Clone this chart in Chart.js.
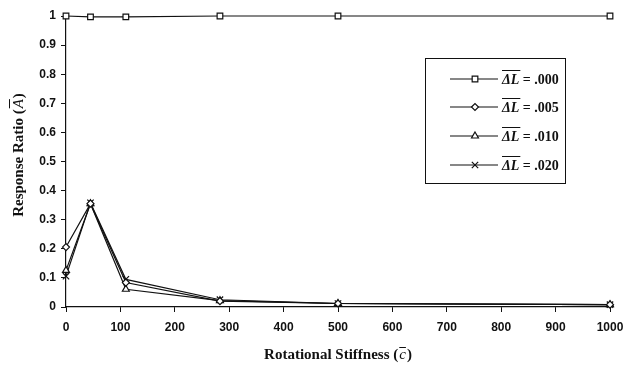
<!DOCTYPE html>
<html>
<head>
<meta charset="utf-8">
<script src="https://cdn.jsdelivr.net/npm/chart.js@4/dist/chart.umd.min.js"></script>
<style>
  body { margin: 0; background: #fff; }
  #wrap { width: 623px; height: 365px; position: relative; }
</style>
</head>
<body>
<div id="wrap"><canvas id="chart"></canvas></div>
<script>
// ── Data ─────────────────────────────────────────────────────────────
const stiffness = [0, 45, 110, 283, 500, 1000];
const dL000 = [1.0, 0.997, 0.997, 1.0, 1.0, 1.0];
const dL005 = [0.206, 0.355, 0.084, 0.02, 0.012, 0.008];
const dL010 = [0.126, 0.355, 0.061, 0.022, 0.012, 0.008];
const dL020 = [0.106, 0.358, 0.095, 0.025, 0.012, 0.008];
const seriesLabels = ['.000', '.005', '.010', '.020'];
const xTicks = [0, 100, 200, 300, 400, 500, 600, 700, 800, 900, 1000];

const INK = '#111';
const SERIF = '"Liberation Serif", "Times New Roman", serif';
const styles = [
    { pointStyle: 'rect', radius: 4 },
    { pointStyle: 'rectRot', radius: 3.5 },
    { pointStyle: 'triangle', radius: 4 },
    { pointStyle: 'crossRot', radius: 4.5 }
];

function toPoints(ys) {
    return stiffness.map((x, i) => ({ x: x, y: ys[i] }));
}

const datasets = [dL000, dL005, dL010, dL020].map((ys, i) => ({
    label: seriesLabels[i],
    data: toPoints(ys),
    borderColor: INK,
    borderWidth: 1.2,
    backgroundColor: '#fff',
    pointStyle: styles[i].pointStyle,
    pointRadius: styles[i].radius,
    pointBorderColor: INK,
    pointBackgroundColor: '#fff',
    pointBorderWidth: 1.2,
    tension: 0,
    clip: false
}));

// ── Legend box + axis titles (overlined symbols drawn by hand) ───────
function overline(ctx, x, y, w) {
    ctx.beginPath();
    ctx.lineWidth = 1;
    ctx.moveTo(x, y);
    ctx.lineTo(x + w, y);
    ctx.stroke();
}

const annotations = {
    id: 'annotations',
    afterDraw(chart) {
        const ctx = chart.ctx;
        const area = chart.chartArea;
        ctx.save();
        ctx.strokeStyle = INK;
        ctx.fillStyle = INK;

        // legend
        const box = { x: 425, y: 58, w: 140, h: 125 };
        ctx.lineWidth = 1;
        ctx.strokeRect(box.x + 0.5, box.y + 0.5, box.w, box.h);
        const rowY = [79, 107, 136, 165];
        seriesLabels.forEach((lab, i) => {
            const y = rowY[i];
            ctx.lineWidth = 1.2;
            ctx.beginPath();
            ctx.moveTo(450, y);
            ctx.lineTo(498, y);
            ctx.stroke();
            ctx.fillStyle = '#fff';
            Chart.helpers.drawPoint(ctx, {
                pointStyle: styles[i].pointStyle,
                radius: styles[i].radius,
                rotation: 0,
                borderWidth: 1.2
            }, 475, y);
            ctx.fillStyle = INK;
            ctx.textBaseline = 'middle';
            ctx.textAlign = 'left';
            ctx.font = 'italic bold 14px ' + SERIF;
            const sym = '\u0394L';
            ctx.fillText(sym, 502, y + 1);
            const w = ctx.measureText(sym).width;
            overline(ctx, 502, y - 8.5, w + 1);
            ctx.font = 'bold 14px ' + SERIF;
            ctx.fillText(' = ' + lab, 502 + w, y + 1);
        });

        // x title: Rotational Stiffness (c̄)
        ctx.textBaseline = 'alphabetic';
        const xParts = [
            { t: 'Rotational Stiffness (', f: 'bold 15px ' + SERIF },
            { t: 'c', f: 'italic 15px ' + SERIF, bar: true },
            { t: ')', f: 'bold 15px ' + SERIF }
        ];
        let total = 0;
        xParts.forEach(p => { ctx.font = p.f; p.w = ctx.measureText(p.t).width; total += p.w + (p.bar ? 2 : 0); });
        let cx = (area.left + area.right) / 2 - total / 2;
        const by = 359;
        xParts.forEach(p => {
            ctx.font = p.f;
            ctx.fillText(p.t, cx + (p.bar ? 1 : 0), by);
            if (p.bar) overline(ctx, cx + 1, by - 11.5, p.w);
            cx += p.w + (p.bar ? 2 : 0);
        });

        // y title: Response Ratio (Ā)
        ctx.save();
        ctx.translate(23, 155);
        ctx.rotate(-Math.PI / 2);
        const yParts = [
            { t: 'Response Ratio (', f: 'bold 15px ' + SERIF },
            { t: 'A', f: 'italic 15px ' + SERIF, bar: true },
            { t: ')', f: 'bold 15px ' + SERIF }
        ];
        total = 0;
        yParts.forEach(p => { ctx.font = p.f; p.w = ctx.measureText(p.t).width; total += p.w + (p.bar ? 2 : 0); });
        cx = -total / 2;
        yParts.forEach(p => {
            ctx.font = p.f;
            ctx.fillText(p.t, cx + (p.bar ? 1 : 0), 0);
            if (p.bar) overline(ctx, cx + 1, -13.5, p.w);
            cx += p.w + (p.bar ? 2 : 0);
        });
        ctx.restore();

        ctx.restore();
    }
};

// ── Chart ────────────────────────────────────────────────────────────
const tickFont = { family: '"Liberation Sans", Arial, sans-serif', size: 12, weight: 'bold' };

new Chart(document.getElementById('chart').getContext('2d'), {
    type: 'line',
    data: { datasets: datasets },
    options: {
        responsive: true,
        maintainAspectRatio: false,
        animation: false,
        layout: { padding: { top: 16, right: 0, left: 0, bottom: 0 } },
        plugins: {
            legend: { display: false },
            tooltip: { enabled: false }
        },
        scales: {
            x: {
                type: 'linear',
                min: 0,
                max: 1000,
                afterBuildTicks: s => { s.ticks = xTicks.map(v => ({ value: v })); },
                afterFit: s => { s.height = 58; s.paddingRight = 13; s.paddingLeft = 0; },
                border: { display: true, color: INK, width: 1.2 },
                grid: { display: true, drawOnChartArea: false, drawTicks: true, tickLength: 5, color: INK },
                ticks: { color: INK, font: tickFont, padding: 8, maxRotation: 0, autoSkip: false,
                         callback: v => String(v) },
                title: { display: false }
            },
            y: {
                min: 0,
                max: 1,
                afterFit: s => { s.width = 66; },
                border: { display: true, color: INK, width: 1.2 },
                grid: { display: true, drawOnChartArea: false, drawTicks: true, tickLength: 5, color: INK },
                ticks: { stepSize: 0.1, color: INK, font: tickFont, padding: 5,
                         callback: v => (Math.round(v * 10) / 10).toString() },
                title: { display: false }
            }
        }
    },
    plugins: [annotations]
});
</script>
</body>
</html>
